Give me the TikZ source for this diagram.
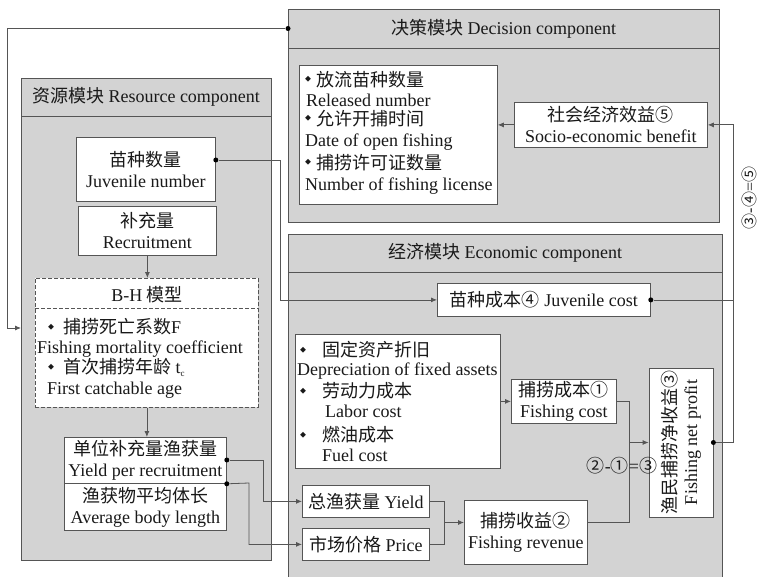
\documentclass[tikz,border=0pt]{standalone}
\usepackage{fontspec}
\setmainfont{Liberation Serif}
\newfontfamily\cjk{Noto Sans CJK SC}
\usetikzlibrary{arrows.meta}
\definecolor{modfill}{RGB}{211,211,211}
\definecolor{linec}{RGB}{85,85,85}
\definecolor{txt}{RGB}{25,25,25}
\newcommand{\zh}[1]{{\cjk #1}}
\newcommand{\bul}[1]{\makebox[#1][l]{\raisebox{4.5pt}{\fontsize{6}{6}\selectfont\cjk ◆}}}
\begin{document}
\begin{tikzpicture}[x=1pt,y=-1pt, font=\fontsize{18}{21}\selectfont,
  module/.style={draw=linec, fill=modfill, line width=0.8pt, inner sep=0pt, anchor=north west},
  box/.style={draw=linec, fill=white, line width=0.8pt, inner sep=1pt, align=center, anchor=north west, text=txt},
  txtn/.style={inner sep=0pt, anchor=base west, text=txt},
  conn/.style={draw=linec, line width=0.8pt, -{Latex[length=6pt,width=5pt]}},
  wire/.style={draw=linec, line width=0.8pt},
  dotn/.style={circle, fill=black, inner sep=0pt, minimum size=5pt}]
\useasboundingbox (0,0) rectangle (762,577);
\clip (0,0) rectangle (762,577);
% modules
\node[module, minimum width=431pt, minimum height=213pt] (dec) at (288,9) {};
\node[module, minimum width=250pt, minimum height=482pt] (res) at (21,78) {};
\node[module, minimum width=434pt, minimum height=360pt] (eco) at (288,234) {};
\draw[wire] (dec.west |- 0,48) -- (dec.east |- 0,48);
\draw[wire] (res.west |- 0,116) -- (res.east |- 0,116);
\draw[wire] (eco.west |- 0,272) -- (eco.east |- 0,272);
\node[text=txt] (dech) at (503.5,28.5) {\zh{决策模块} Decision component};
\node[text=txt] (resh) at (146,97) {\zh{资源模块} Resource component};
\node[text=txt] (ecoh) at (505,253) {\zh{经济模块} Economic component};
% resource inner
\node[box, minimum width=139pt, minimum height=64pt] (jn) at (76,137) {\zh{苗种数量}\\Juvenile number};
\node[box, minimum width=138pt, minimum height=49pt] (rec) at (78,206) {\zh{补充量}\\Recruitment};
\node[box, dash pattern=on 4pt off 2pt, minimum width=223pt, minimum height=129pt] (bh) at (35,278) {};
\draw[wire, dash pattern=on 4pt off 2pt] (bh.west |- 0,308) -- (bh.east |- 0,308);
\node[text=txt, inner sep=0pt] (bht) at (147,295) {B-H \zh{模型}};
\node[txtn] (bh1) at (48,333.5) {\bul{15pt}\zh{捕捞死亡系数}F};
\node[txtn] (bh2) at (37,353.5) {Fishing mortality coefficient};
\node[txtn] (bh3) at (48,373.5) {\bul{15pt}\zh{首次捕捞年龄} t\textsubscript{\fontsize{9}{9}\selectfont c}};
\node[txtn] (bh4) at (47,394.5) {First catchable age};
\node[box, minimum width=162pt, minimum height=46pt] (ypr) at (64,437) {\zh{单位补充量渔获量}\\Yield per recruitment};
\node[box, minimum width=162pt, minimum height=47pt] (abl) at (64,483) {\zh{渔获物平均体长}\\Average body length};
% decision inner
\node[box, minimum width=198pt, minimum height=139pt] (dlist) at (299,65) {};
\node[txtn] (dl1) at (305,86.5) {\bul{11pt}\zh{放流苗种数量}};
\node[txtn] (dl2) at (306,106.5) {Released number};
\node[txtn] (dl3) at (305,125.5) {\bul{11pt}\zh{允许开捕时间}};
\node[txtn] (dl4) at (305,146.5) {Date of open fishing};
\node[txtn] (dl5) at (305,169.5) {\bul{11pt}\zh{捕捞许可证数量}};
\node[txtn] (dl6) at (305,190.5) {Number of fishing license};
\node[box, minimum width=193pt, minimum height=45pt] (soc) at (514,102) {\zh{社会经济效益⑤}\\Socio-economic benefit};
% economic inner
\node[box, minimum width=213pt, minimum height=33pt] (jc) at (437,283) {\zh{苗种成本④} Juvenile cost};
\node[box, minimum width=205pt, minimum height=134pt] (elist) at (295,334) {};
\node[txtn] (el1) at (300,356.5) {\bul{22pt}\zh{固定资产折旧}};
\node[txtn] (el2) at (297,375.5) {Depreciation of fixed assets};
\node[txtn] (el3) at (300,397.5) {\bul{22pt}\zh{劳动力成本}};
\node[txtn] (el4) at (325,417.5) {Labor cost};
\node[txtn] (el5) at (300,441.5) {\bul{22pt}\zh{燃油成本}};
\node[txtn] (el6) at (322,461.5) {Fuel cost};
\node[box, minimum width=105pt, minimum height=44pt] (fc) at (511,379) {\zh{捕捞成本①}\\Fishing cost};
\node[box, minimum width=127pt, minimum height=32pt] (yld) at (302,485) {\zh{总渔获量} Yield};
\node[box, minimum width=127pt, minimum height=32pt] (prc) at (302,528) {\zh{市场价格} Price};
\node[box, minimum width=123pt, minimum height=64pt] (rev) at (464,500) {\zh{捕捞收益②}\\Fishing revenue};
\node[box, rotate=90, anchor=center, minimum width=149pt, minimum height=64pt] (np) at (681,442.5) {\zh{渔民捕捞净收益③}\\Fishing net profit};
% connectors
\node[dotn] (d1) at (jn.east |- 0,160) {};
\draw[conn] (d1) -- (280,160) |- (jc.west);
\draw[conn] (rec.south) -- (rec.south |- bh.north);
\draw[conn] (bh.south) -- (bh.south |- ypr.north);
\node[dotn] (d2) at (ypr.east |- 0,460) {};
\draw[conn] (d2) -- (263,460) |- (yld.west);
\node[dotn] (d3) at (ypr.south east) {};
\draw[conn] (d3) -- (249,483) |- (prc.west);
\coordinate (j1) at (444,522.5);
\draw[wire] (yld.east) -| (j1);
\draw[wire] (prc.east) -| (j1);
\draw[conn] (j1) -- (j1 -| rev.west);
\draw[conn] (elist.east |- fc.west) -- (fc.west);
\coordinate (j2) at (629,442.5);
\draw[wire] (fc.east) -| (j2);
\draw[wire] (rev.east |- 0,522) -| (j2);
\draw[conn] (j2) -- (np.north);
\node[dotn] (d4) at (np.south) {};
\coordinate (r1) at (733,442.5);
\draw[wire] (d4) -- (r1);
\draw[conn] (r1) |- (soc.east);
\node[dotn] (d5) at (jc.east) {};
\draw[wire] (d5) -- (d5 -| r1);
\draw[conn] (soc.west) -- (soc.west -| dlist.east);
\node[dotn] (d6) at (dec.west |- 0,28.5) {};
\draw[conn] (d6) -- (7,28.5) |- (res.west |- 0,328);
% labels
\node[text=txt, inner sep=0pt] (eq1) at (622,466) {\zh{②}-\zh{①}=\zh{③}};
\node[text=txt, inner sep=0pt, rotate=90, font=\fontsize{16}{18}\selectfont] (eq2) at (749,198) {\zh{③}-\zh{④}=\zh{⑤}};
\end{tikzpicture}
\end{document}
